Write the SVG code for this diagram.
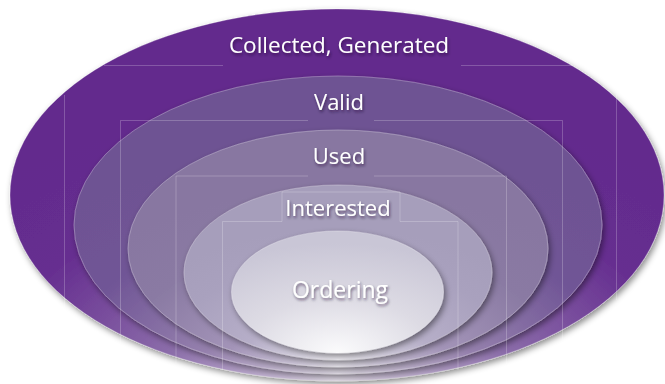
<svg xmlns="http://www.w3.org/2000/svg" width="665" height="384" viewBox="0 0 665 384">
  <defs>
    <filter id="shadow" x="-10%" y="-10%" width="120%" height="125%">
      <feDropShadow dx="2" dy="3" stdDeviation="3" flood-color="#000" flood-opacity="0.45"/>
    </filter>
    <filter id="tshadow" x="-10%" y="-30%" width="120%" height="160%">
      <feDropShadow dx="1" dy="2" stdDeviation="1.5" flood-color="#1a0a2a" flood-opacity="0.6"/>
    </filter>
    <radialGradient id="g1" cx="0.5" cy="1" r="0.75" fx="0.5" fy="1">
      <stop offset="0" stop-color="#e4deea"/>
      <stop offset="0.35" stop-color="#8c6eaa"/>
      <stop offset="0.7" stop-color="#662e90"/>
      <stop offset="1" stop-color="#632b8d"/>
    </radialGradient>
    <radialGradient id="g2" cx="0.5" cy="1" r="0.75" fx="0.5" fy="1">
      <stop offset="0" stop-color="#e2dde8"/>
      <stop offset="0.35" stop-color="#9580ad"/>
      <stop offset="0.7" stop-color="#705596"/>
      <stop offset="1" stop-color="#6e5293"/>
    </radialGradient>
    <radialGradient id="g3" cx="0.5" cy="1" r="0.75" fx="0.5" fy="1">
      <stop offset="0" stop-color="#e8e5ee"/>
      <stop offset="0.35" stop-color="#a394b8"/>
      <stop offset="0.7" stop-color="#8a7aa3"/>
      <stop offset="1" stop-color="#8877a1"/>
    </radialGradient>
    <radialGradient id="g4" cx="0.5" cy="1" r="0.75" fx="0.5" fy="1">
      <stop offset="0" stop-color="#eeecf2"/>
      <stop offset="0.4" stop-color="#b6aec8"/>
      <stop offset="0.75" stop-color="#a9a1be"/>
      <stop offset="1" stop-color="#a69ebb"/>
    </radialGradient>
    <radialGradient id="g5" cx="0.5" cy="1" r="0.9" fx="0.5" fy="1">
      <stop offset="0" stop-color="#fbfbfc"/>
      <stop offset="0.5" stop-color="#dddbe4"/>
      <stop offset="1" stop-color="#c9c6d6"/>
    </radialGradient>
  </defs>
  <style>
    .layer { stroke: #ffffff; stroke-opacity: 0.35; stroke-width: 0.8; filter: url(#shadow); }
    .lbl { font-family: "Open Sans", "Noto Sans", "Liberation Sans", sans-serif; fill: #ffffff; text-anchor: middle; filter: url(#tshadow); }
    .frame { stroke: #ffffff; stroke-opacity: 0.22; stroke-width: 1; fill: none; }
  </style>

  <g id="collected-generated">
    <ellipse class="layer" cx="337" cy="195" rx="327" ry="186" fill="url(#g1)"/>
    <text class="lbl" x="339" y="53" font-size="22.5">Collected, Generated</text>
  </g>
  <g id="valid">
    <ellipse class="layer" cx="338" cy="225" rx="264" ry="149" fill="url(#g2)"/>
    <text class="lbl" x="339" y="110" font-size="22">Valid</text>
  </g>
  <g id="used">
    <ellipse class="layer" cx="338" cy="248.5" rx="210" ry="118.5" fill="url(#g3)"/>
    <text class="lbl" x="339" y="164" font-size="22">Used</text>
  </g>
  <g id="interested">
    <ellipse class="layer" cx="338" cy="272.5" rx="154" ry="87.5" fill="url(#g4)"/>
    <text class="lbl" x="338" y="216" font-size="22">Interested</text>
  </g>
  <g id="ordering">
    <ellipse class="layer" cx="337.5" cy="292" rx="106" ry="61" fill="url(#g5)"/>
    <text class="lbl" x="340" y="298" font-size="23" fill="#f4f4f6">Ordering</text>
  </g>

  <g id="frames">
    <path class="frame" d="M104 65.5H223M461 65.5H572M64.5 95V335M616.5 95V300"/>
    <path class="frame" d="M120.5 347V120.5H308M374 120.5H562.5V367"/>
    <path class="frame" d="M176 367V176H308M374 176H506.5V370"/>
    <path class="frame" d="M222.5 370V221.5H282M400 221.5H458V370M282 221.5V192H400V221.5"/>
  </g>
</svg>
